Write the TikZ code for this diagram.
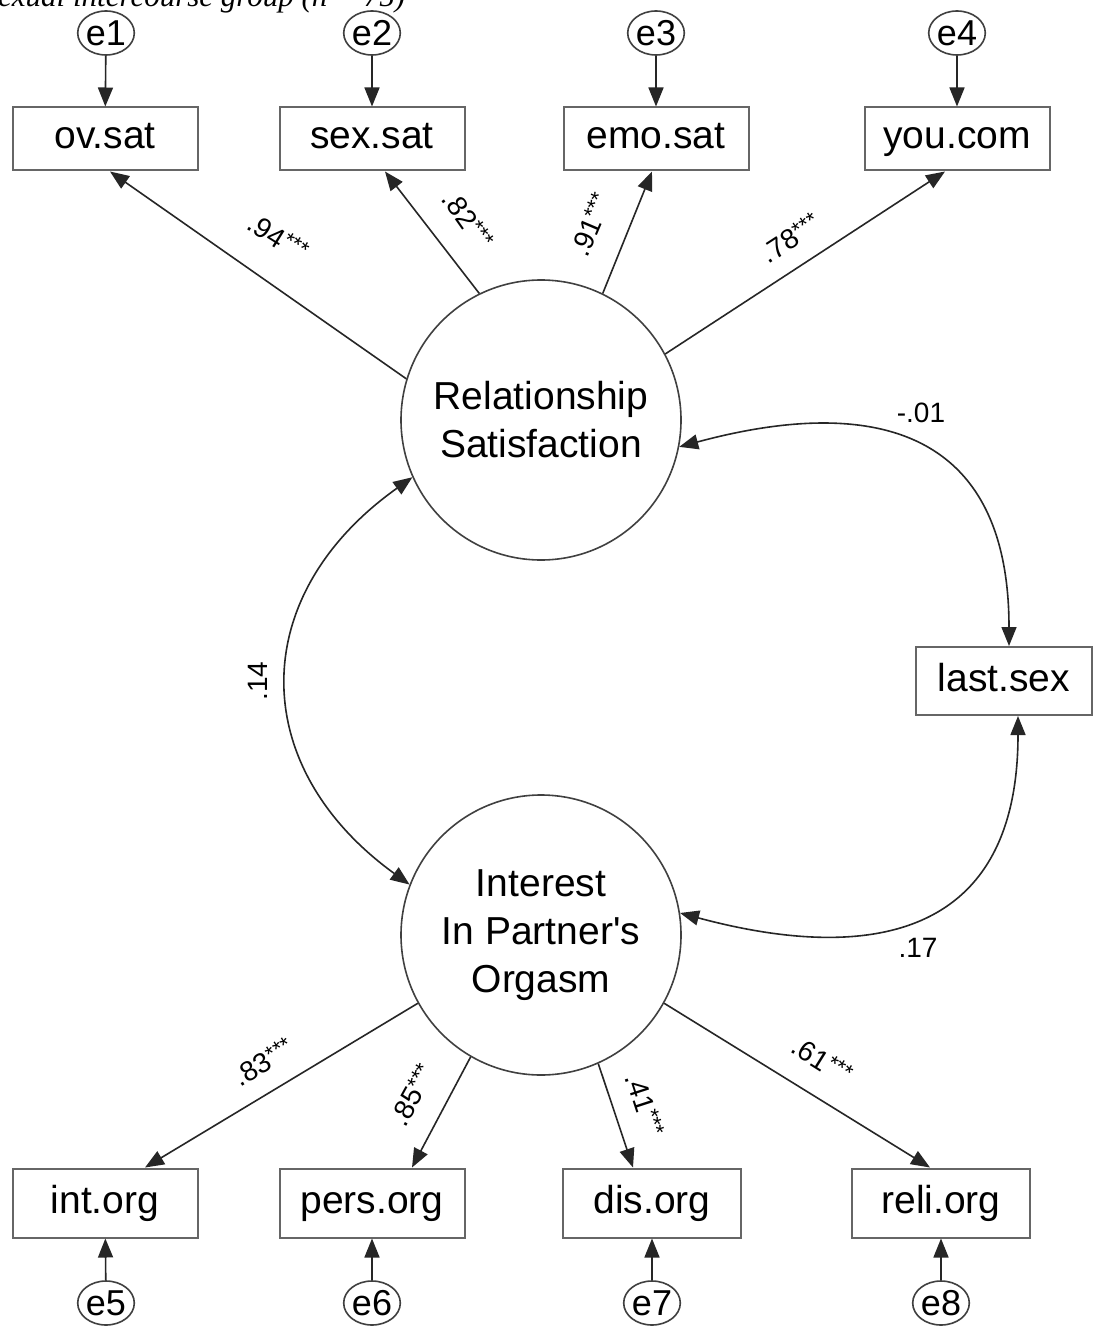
\documentclass[tikz,border=0pt]{standalone}
\usepackage{fontspec}
\setmainfont{Liberation Sans}
\newfontfamily\capfont{Liberation Serif}
\usetikzlibrary{arrows.meta,shapes.geometric}
\newcommand{\sig}{\raisebox{0.22em}{\fontsize{22}{22}\selectfont ***}}
\begin{document}
\begin{tikzpicture}[x=1pt,y=-1pt,
  conn/.style={draw=black!85, line width=1.6pt},
  tip/.style={-{Triangle[length=19pt,width=15pt]}},
  bitip/.style={{Triangle[length=19pt,width=15pt]}-{Triangle[length=19pt,width=15pt]}},
  obs/.style={draw=black!60, line width=2pt, minimum width=185pt, minimum height=63pt,
    inner sep=0pt, text height=28pt, text depth=8pt, font=\fontsize{39}{47}\selectfont},
  lat/.style={circle, draw=black!75, line width=1.6pt, minimum size=280pt, inner sep=0pt,
    align=center, font=\fontsize{39}{48}\selectfont},
  err/.style={ellipse, draw=black!75, line width=1.6pt, minimum width=50pt, minimum height=44pt,
    inner sep=0pt, font=\fontsize{36}{36}\selectfont},
  lab/.style={inner sep=0pt, font=\fontsize{28}{28}\selectfont}]
\useasboundingbox (0,0) rectangle (1094,1329);
\clip (0,0) rectangle (1094,1329);
\fill[white] (0,0) rectangle (1094,1329);

% caption running off the top edge
\node[anchor=base west, inner sep=0pt, font=\capfont\itshape\fontsize{31}{31}\selectfont] (cap) at (-2,7)
  {exual intercourse group (n = 75)};

% latent variables
\node[lat] (RS) at (541,420) {Relationship\\Satisfaction};
\node[lat] (IPO) at (541,935) {Interest\\In Partner\textquotesingle s\\Orgasm};

% observed indicators
\node[obs] (ov) at (105,139) {ov.sat};
\node[obs] (sex) at (372,139) {sex.sat};
\node[obs] (emo) at (656,139) {emo.sat};
\node[obs] (you) at (957,139) {you.com};
\node[obs, minimum width=176pt, minimum height=68pt] (last) at (1004,681) {last.sex};
\node[obs, minimum height=69pt] (int) at (105,1203) {int.org};
\node[obs, minimum height=69pt] (pers) at (372,1203) {pers.org};
\node[obs, minimum height=69pt, minimum width=178pt] (dis) at (652,1203) {dis.org};
\node[obs, minimum height=69pt, minimum width=178pt] (reli) at (941,1203) {reli.org};

% error terms
\node[err] (e1) at (106,33) {e1};
\node[err] (e2) at (372,33) {e2};
\node[err] (e3) at (656,33) {e3};
\node[err] (e4) at (957,33) {e4};
\node[err] (e5) at (106,1303) {e5};
\node[err] (e6) at (372,1303) {e6};
\node[err] (e7) at (652,1303) {e7};
\node[err] (e8) at (941,1303) {e8};

% error paths
\foreach \e/\o in {e1/ov,e2/sex,e3/emo,e4/you,e5/int,e6/pers,e7/dis,e8/reli}
  \draw[conn,tip] (\e) -- (\o);

% loadings
\draw[conn,tip] (RS.163) -- ([xshift=5pt]ov.south);
\draw[conn,tip] (RS.116) -- ([xshift=13pt]sex.south);
\draw[conn,tip] (RS.64.6) -- ([xshift=-4pt]emo.south);
\draw[conn,tip] (RS.28.7) -- ([xshift=-12pt]you.south);
\draw[conn,tip] (IPO.209) -- ([xshift=40pt]int.north);
\draw[conn,tip] (IPO.240.4) -- ([xshift=40pt]pers.north);
\draw[conn,tip] (IPO.294.5) -- ([xshift=-19pt]dis.north);
\draw[conn,tip] (IPO.331) -- ([xshift=-11pt]reli.north);

\node[lab, rotate=-32] (l1) at (278,237) {.94\sig};
\node[lab, rotate=-55] (l2) at (468,220) {.82\sig};
\node[lab, rotate=67] (l3) at (590,225) {.91\sig};
\node[lab, rotate=33] (l4) at (790,238) {.78\sig};
\node[lab, rotate=31] (l5) at (263,1062) {.83\sig};
\node[lab, rotate=61] (l6) at (412,1095) {.85\sig};
\node[lab, rotate=-72] (l7) at (645,1105) {.41\sig};
\node[lab, rotate=-32] (l8) at (822,1060) {.61\sig};

% covariances
\draw[conn,bitip] (RS.204.7) .. controls +(-166,118) and +(-163,-118) .. (IPO.159);
\draw[conn,bitip] (RS.-11) .. controls +(130,-35) and +(0,-260) .. ([xshift=5pt]last.north);
\draw[conn,bitip] (IPO.9) .. controls +(130,35) and +(0,260) .. ([xshift=14pt]last.south);

\node[lab, rotate=90] (c1) at (258,681) {.14};
\node[lab] (c2) at (921,413) {-.01};
\node[lab] (c3) at (918,948) {.17};
\end{tikzpicture}
\end{document}
